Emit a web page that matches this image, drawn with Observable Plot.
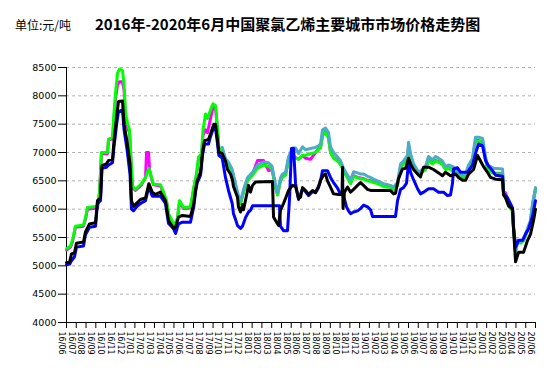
<!DOCTYPE html>
<html><head><meta charset="utf-8">
<script src="https://cdn.jsdelivr.net/npm/d3@7"></script>
<script src="https://cdn.jsdelivr.net/npm/@observablehq/plot@0.6"></script>
<style>
body{margin:0;background:#fff;}
#wrap{position:relative;width:548px;height:368px;overflow:hidden;}
#wrap svg{position:absolute;left:0;top:0;}
.t{position:absolute;white-space:nowrap;font-family:"Noto Sans CJK SC";color:#000;line-height:1;z-index:2;}
</style></head><body>
<div id="wrap">
<div class="t" style="left:15px;top:19px;font-size:12px;">单位:元/吨</div>
<div class="t" style="left:95px;top:16px;font-size:15px;font-weight:bold;">2016年-2020年6月中国聚氯乙烯主要城市市场价格走势图</div>
</div>
<script>
const monthLabels = ["16/06","16/07","16/08","16/09","16/10","16/11","16/12","17/01","17/02","17/03","17/04","17/05","17/06","17/07","17/08","17/09","17/10","17/11","17/12","18/01","18/02","18/03","18/04","18/05","18/06","18/07","18/08","18/09","18/10","18/11","18/12","19/01","19/02","19/03","19/04","19/05","19/06","19/07","19/08","19/09","19/10","19/11","19/12","20/01","20/02","20/03","20/04","20/05","20/06"];
const yTicks = [4000,4500,5000,5500,6000,6500,7000,7500,8000,8500];

// [month index from 16/06, price 元/吨]
const magenta = [[0,5280],[0.41,5330],[0.61,5420],[0.92,5680],[1.74,5700],[1.94,5820],[2.15,6000],[3.17,6020],[3.38,6280],[3.58,6980],[4.2,6980],[4.3,7220],[4.71,7240],[4.86,7600],[5.02,7950],[5.22,8200],[5.42,8250],[5.73,8250],[5.89,8100],[6.04,7600],[6.29,7420],[6.45,7350],[6.6,6850],[6.76,6380],[7.06,6330],[7.37,6380],[7.68,6430],[8.09,6560],[8.19,7000],[8.4,7000],[8.5,6700],[8.7,6540],[8.9,6430],[9.62,6410],[9.93,6280],[10.24,6130],[10.44,5900],[10.85,5760],[11.16,5710],[11.36,5830],[11.57,6130],[11.98,6010],[12.69,6020],[13.0,6340],[13.31,6600],[13.51,6880],[13.82,6950],[13.97,7300],[14.23,7400],[14.43,7350],[14.74,7600],[14.99,7800],[15.25,7780],[15.42,7480],[15.59,7070],[15.86,6980],[16.27,6850],[16.58,6790],[16.96,6660],[17.3,6410],[17.64,6170],[17.81,6110],[18.12,6310],[18.53,6510],[19.04,6620],[19.55,6860],[20.16,6860],[20.68,6680],[21.03,6700],[21.22,6550],[21.39,6390],[21.6,6260],[21.9,6510],[22.11,6580],[22.42,6610],[22.72,6880],[23.13,6960],[23.44,6910],[23.75,6880],[24.16,6950],[24.46,6900],[24.97,6880],[25.49,7000],[25.79,7060],[26.0,7090],[26.2,7310],[26.51,7360],[26.82,7260],[27.02,7010],[27.33,6910],[27.74,6860],[28.04,6800],[28.35,6690],[28.76,6560],[29.07,6460],[29.38,6590],[29.79,6560],[30.09,6550],[30.4,6540],[30.81,6510],[31.12,6500],[31.42,6480],[31.83,6460],[32.45,6410],[33.16,6390],[33.47,6360],[33.88,6430],[34.19,6750],[34.49,6810],[34.9,6910],[35.01,7110],[35.21,6940],[35.52,6760],[36.03,6610],[36.44,6670],[36.75,6710],[37.05,6870],[37.46,6810],[37.77,6860],[38.08,6840],[38.48,6800],[38.79,6710],[39.1,6730],[39.51,6690],[39.82,6670],[40.12,6590],[40.53,6570],[40.84,6580],[41.15,6730],[41.56,6850],[41.66,6990],[41.86,7210],[42.17,7210],[42.58,7190],[42.68,7090],[42.89,6880],[43.09,6730],[43.4,6670],[43.71,6640],[44.63,6630],[44.73,6300],[44.93,6290],[45.24,6080],[45.65,5970],[45.75,5660],[45.96,5260],[46.16,5430],[46.47,5410],[46.78,5450],[46.98,5540],[47.29,5690],[47.49,5780],[47.7,6080],[48,6350]];

const green = [[0,5300],[0.41,5350],[0.61,5450],[0.92,5700],[1.74,5720],[1.94,5850],[2.15,6030],[3.17,6050],[3.38,6300],[3.58,7000],[4.2,7000],[4.3,7240],[4.71,7260],[4.86,7700],[5.02,8050],[5.22,8400],[5.42,8470],[5.73,8450],[5.89,8200],[6.04,7700],[6.29,7480],[6.45,7400],[6.6,6900],[6.76,6400],[7.06,6350],[7.37,6400],[7.68,6450],[8.09,6560],[8.44,6720],[8.7,6560],[8.9,6440],[9.62,6430],[9.93,6300],[10.24,6150],[10.44,5920],[10.85,5780],[11.16,5730],[11.36,5850],[11.57,6150],[11.98,6030],[12.69,6040],[13.0,6360],[13.31,6620],[13.51,6920],[13.82,6980],[13.97,7400],[14.23,7680],[14.43,7600],[14.74,7750],[14.99,7860],[15.25,7830],[15.42,7500],[15.59,7090],[15.86,7000],[16.27,6840],[16.58,6780],[16.96,6650],[17.3,6400],[17.64,6160],[17.81,6100],[18.12,6300],[18.53,6500],[19.04,6600],[19.55,6720],[20.16,6780],[20.68,6760],[21.03,6700],[21.22,6540],[21.39,6380],[21.6,6250],[21.9,6500],[22.11,6570],[22.42,6600],[22.72,6870],[23.13,6950],[23.44,6900],[23.75,6880],[24.16,6950],[24.46,6950],[24.97,6980],[25.49,7000],[25.79,7050],[26.0,7080],[26.2,7300],[26.51,7350],[26.82,7250],[27.02,7000],[27.33,6900],[27.74,6850],[28.04,6790],[28.35,6680],[28.76,6550],[29.07,6450],[29.38,6580],[29.79,6550],[30.09,6540],[30.4,6530],[30.81,6500],[31.12,6490],[31.42,6470],[31.83,6450],[32.45,6400],[33.16,6380],[33.47,6350],[33.88,6420],[34.19,6740],[34.49,6800],[34.9,6900],[35.01,7100],[35.21,6930],[35.52,6750],[36.03,6600],[36.44,6660],[36.75,6700],[37.05,6860],[37.46,6800],[37.77,6850],[38.08,6830],[38.48,6790],[38.79,6700],[39.1,6720],[39.51,6680],[39.82,6660],[40.12,6580],[40.53,6560],[40.84,6570],[41.15,6720],[41.56,6840],[41.66,6980],[41.86,7200],[42.17,7200],[42.58,7180],[42.68,7080],[42.89,6870],[43.09,6720],[43.4,6660],[43.71,6630],[44.63,6620],[44.73,6260],[44.93,6220],[45.24,6060],[45.65,5960],[45.75,5650],[45.96,5250],[46.16,5420],[46.47,5400],[46.78,5440],[46.98,5530],[47.29,5680],[47.49,5770],[47.7,6070],[48,6340]];

const teal = [[15.94,7090],[16.27,6890],[16.58,6830],[16.96,6700],[17.3,6450],[17.64,6210],[17.81,6150],[18.12,6350],[18.53,6560],[19.04,6650],[19.55,6780],[20.16,6830],[20.68,6820],[21.03,6760],[21.22,6590],[21.39,6430],[21.6,6300],[21.9,6550],[22.11,6620],[22.42,6650],[22.72,6920],[23.13,7080],[23.44,7080],[23.75,6980],[24.16,7100],[24.46,7050],[24.97,7070],[25.49,7090],[25.79,7120],[26.0,7150],[26.2,7400],[26.51,7430],[26.82,7350],[27.02,7100],[27.33,7000],[27.74,6920],[28.04,6860],[28.35,6720],[28.76,6600],[29.07,6520],[29.38,6660],[29.79,6640],[30.09,6620],[30.4,6620],[30.81,6580],[31.12,6560],[31.42,6530],[31.83,6500],[32.45,6450],[33.16,6420],[33.47,6390],[33.88,6470],[34.19,6800],[34.49,6850],[34.9,6950],[35.01,7180],[35.21,6980],[35.52,6800],[36.03,6650],[36.44,6700],[36.75,6760],[37.05,6930],[37.46,6870],[37.77,6930],[38.08,6900],[38.48,6850],[38.79,6750],[39.1,6780],[39.51,6750],[39.82,6720],[40.12,6620],[40.53,6600],[40.84,6620],[41.15,6780],[41.56,6900],[41.66,7040],[41.86,7270],[42.17,7270],[42.58,7250],[42.68,7150],[42.89,6920],[43.09,6780],[43.4,6750],[43.71,6720],[44.63,6710],[44.73,6300],[44.93,6250],[45.24,6090],[45.65,5990],[45.75,5680],[45.96,5280],[46.16,5450],[46.47,5430],[46.78,5470],[46.98,5560],[47.29,5710],[47.49,5800],[47.7,6100],[48,6380]];

const blue = [[0,5020],[0.31,5030],[0.51,5090],[0.82,5160],[1.02,5330],[1.74,5350],[1.94,5550],[2.35,5680],[2.97,5700],[3.17,6100],[3.48,6150],[3.63,6720],[4.09,6740],[4.3,6780],[4.71,6820],[4.86,7100],[5.17,7550],[5.32,7720],[5.73,7750],[5.89,7400],[6.19,7060],[6.5,6620],[6.65,6000],[6.86,5970],[7.22,6050],[7.57,6100],[8.09,6150],[8.43,6400],[8.77,6230],[9.62,6230],[10.13,6100],[10.44,5750],[10.95,5660],[11.16,5570],[11.46,5740],[11.87,5770],[12.69,5770],[13.03,6050],[13.2,6300],[13.38,6470],[13.72,6600],[13.92,6950],[14.13,7150],[14.53,7150],[14.74,7280],[15.08,7450],[15.25,7430],[15.42,7200],[15.59,6950],[15.94,6900],[16.27,6560],[16.58,6330],[16.96,6100],[17.09,5920],[17.3,5820],[17.5,5710],[17.81,5660],[18.01,5700],[18.32,5850],[18.63,5950],[18.83,5980],[19.04,6060],[21.8,6060],[21.9,5700],[22.21,5620],[22.62,5620],[22.83,6200],[23.03,7070],[23.24,7070],[23.44,6450],[23.75,6170],[24.16,6360],[24.46,6310],[24.77,6240],[25.18,6310],[25.49,6290],[25.79,6380],[26.0,6500],[26.2,6680],[26.71,6680],[27.02,6560],[27.33,6470],[27.74,6370],[28.04,6270],[28.35,6240],[28.66,6040],[28.86,5970],[29.07,5920],[29.38,5950],[29.79,5970],[30.09,6010],[30.4,6070],[30.81,6040],[31.12,5990],[31.32,5870],[33.67,5870],[33.88,6150],[34.19,6350],[34.49,6380],[34.8,6460],[35.01,6830],[35.21,6650],[35.52,6520],[35.93,6360],[36.23,6270],[36.54,6300],[37.05,6360],[37.56,6360],[38.08,6300],[38.59,6300],[38.99,6240],[39.3,6250],[39.51,6460],[39.61,6710],[40.02,6730],[40.33,6650],[41.04,6650],[41.56,6780],[41.86,6980],[42.17,7150],[42.58,7120],[42.89,6860],[43.19,6760],[43.6,6680],[43.91,6600],[44.63,6580],[44.73,6280],[45.14,6200],[45.65,6020],[45.75,5700],[45.96,5330],[46.27,5450],[46.67,5450],[46.98,5560],[47.29,5650],[47.7,5880],[48,6150]];

const black = [[0,5060],[0.31,5060],[0.51,5210],[0.82,5230],[1.02,5400],[1.74,5420],[1.94,5600],[2.35,5740],[2.97,5760],[3.17,6150],[3.48,6200],[3.63,6770],[4.09,6800],[4.3,6860],[4.71,6880],[4.86,7200],[5.17,7690],[5.32,7900],[5.73,7910],[5.89,7500],[6.19,7200],[6.5,6800],[6.65,6150],[6.86,6050],[7.22,6110],[7.57,6170],[8.09,6200],[8.43,6450],[8.77,6300],[9.11,6260],[9.62,6300],[10.13,6150],[10.44,5800],[10.95,5660],[11.16,5680],[11.46,5860],[11.87,5890],[12.69,5870],[13.03,6100],[13.2,6330],[13.38,6510],[13.72,6650],[13.92,7000],[14.13,7210],[14.53,7230],[14.74,7330],[15.08,7500],[15.25,7500],[15.42,7270],[15.59,7010],[15.94,6980],[16.27,6850],[16.48,6700],[16.79,6620],[16.99,6510],[17.09,6400],[17.5,6210],[17.6,6040],[17.81,5950],[18.01,6080],[18.12,5990],[18.53,6330],[18.63,6420],[18.83,6300],[19.04,6420],[19.34,6480],[21.08,6490],[21.19,5860],[21.39,5800],[21.7,5710],[21.9,5980],[22.21,6100],[22.42,6190],[22.72,6330],[23.13,6420],[23.44,6400],[23.75,6190],[23.95,6210],[24.16,6380],[24.46,6330],[24.77,6260],[25.18,6330],[25.49,6300],[25.79,6400],[26.0,6510],[26.3,6600],[26.51,6620],[26.71,6500],[27.02,6390],[27.33,6270],[27.84,6260],[28.2,6260],[28.25,6740],[28.3,6010],[28.45,6300],[28.76,6390],[29.07,6300],[29.38,6350],[29.79,6420],[30.09,6470],[30.4,6420],[30.81,6350],[31.12,6330],[33.16,6330],[33.47,6270],[33.67,6280],[33.98,6540],[34.39,6710],[34.7,6720],[35.01,6900],[35.21,6800],[35.52,6700],[35.93,6620],[36.23,6570],[36.54,6740],[37.05,6740],[37.56,6700],[38.08,6640],[38.48,6590],[38.79,6650],[39.3,6590],[39.82,6620],[40.12,6560],[40.53,6510],[40.84,6510],[41.15,6620],[41.66,6700],[42.07,6950],[42.37,6850],[42.68,6750],[43.09,6650],[43.4,6560],[43.91,6530],[44.63,6520],[44.73,6250],[44.93,6200],[45.24,6060],[45.65,6000],[45.75,5650],[45.96,5070],[46.27,5240],[46.78,5240],[47.19,5450],[47.49,5560],[47.8,5800],[48,6000]];

const series = [
  {data: magenta, color: "#ff00ff"},
  {data: green, color: "#00ff00"},
  {data: teal, color: "#4bacc6"},
  {data: blue, color: "#0000ff"},
  {data: black, color: "#000000"}
];

const tickIdx = monthLabels.map((_, i) => i);

const chart = Plot.plot({
  width: 548, height: 368,
  marginLeft: 66, marginRight: 13, marginTop: 67, marginBottom: 46,
  style: {fontFamily: "DejaVu Sans", background: "transparent", color: "#000", overflow: "visible"},
  x: {domain: [0, monthLabels.length - 1]},
  y: {domain: [yTicks[0], yTicks[yTicks.length - 1]]},
  marks: [
    Plot.ruleY(yTicks.slice(1), {stroke: "#b4b4b4", strokeDasharray: "3,3", strokeWidth: 1}),
    Plot.axisY(yTicks, {tickSize: 8, tickPadding: 2, fontSize: 9.5, label: null, stroke: "#000", tickFormat: d => String(d)}),
    Plot.axisX(tickIdx, {tickSize: 6, tickFormat: () => "", label: null, stroke: "#000"}),
    Plot.axisX(tickIdx, {tickSize: 0, tickPadding: 9, tickRotate: 90, tickFormat: i => monthLabels[i], fontSize: 8, label: null, dx: -5}),
    Plot.ruleX([0], {y1: yTicks[0], y2: yTicks[yTicks.length - 1], stroke: "#000"}),
    Plot.ruleY([yTicks[0]], {stroke: "#000"}),
    ...series.map(s => Plot.line(s.data, {x: d => d[0], y: d => d[1], stroke: s.color, strokeWidth: 3, strokeLinejoin: "round"}))
  ]
});
document.getElementById("wrap").prepend(chart);
</script>
</body></html>
